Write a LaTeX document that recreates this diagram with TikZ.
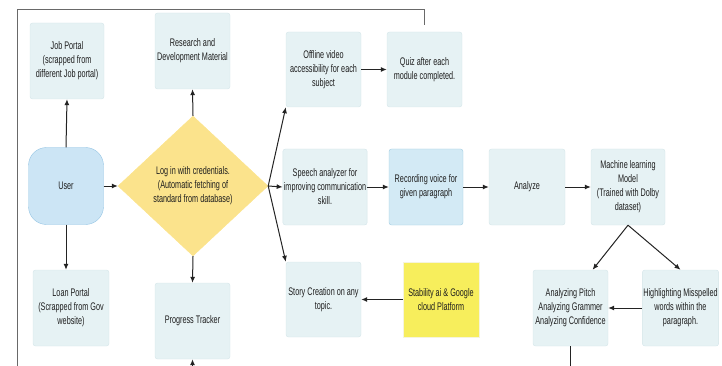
\documentclass[tikz,border=0pt]{standalone}
\usepackage{fontspec}
\setmainfont{Liberation Sans}[FakeStretch=0.66]
\usetikzlibrary{shapes.geometric,arrows.meta}

\definecolor{boxfill}{RGB}{230,242,244}
\definecolor{boxline}{RGB}{212,229,233}
\definecolor{userfill}{RGB}{204,229,245}
\definecolor{userline}{RGB}{150,198,228}
\definecolor{loginfill}{RGB}{251,227,140}
\definecolor{stabfill}{RGB}{247,238,92}
\definecolor{recfill}{RGB}{211,234,245}
\definecolor{recline}{RGB}{160,204,224}
\definecolor{wire}{RGB}{35,35,35}
\definecolor{framegray}{RGB}{105,105,105}
\definecolor{inkgray}{RGB}{30,30,30}

\tikzset{
  box/.style={draw=boxline, fill=boxfill, rounded corners=2.5pt, minimum width=75pt, minimum height=76pt,
    inner sep=1pt, align=center, text=inkgray, font=\fontsize{11}{14}\selectfont},
  link/.style={draw=wire, line width=1pt, -{Latex[length=6pt,width=5pt]}},
  wireline/.style={draw=wire, line width=1pt},
}

\begin{document}
\begin{tikzpicture}[x=1pt,y=1pt,yscale=-1,xscale=1]
\useasboundingbox (0,0) rectangle (722,366);

% Outer frame
\coordinate (quizin) at (424,25);
\draw [framegray, line width=0.9pt] (17,366) -- (17,9) -| (quizin);

% Left column
\node [box, draw=userline, fill=userfill, rounded corners=18pt, minimum height=77pt] (user) at (66,186) {User};
\node [box, minimum width=74pt] (job) at (67,61) {Job Portal\\(scrapped from\\different Job portal)};
\node [box, minimum width=76pt] (loan) at (71,308) {Loan Portal\\(Scrapped from Gov\\website)};

% Login decision
\node [diamond, fill=loginfill, draw=loginfill, minimum width=150pt, minimum height=140pt, aspect=1.07,
  inner sep=0pt, align=center, text=inkgray, font=\fontsize{11}{14}\selectfont] (login) at (193,186)
  {Log in with credentials.\\(Automatic fetching of\\standard from database)};
\node [box] (research) at (192.5,51) {Research and\\Development Material};
\node [box] (progress) at (192.5,321) {Progress Tracker};

% Top branch
\node [box, minimum height=75pt] (offline) at (323.5,69.5) {Offline video\\accessibility for each\\subject};
\node [box, minimum height=75pt] (quiz) at (424.5,69.5) {Quiz after each\\module completed.};

% Middle branch
\node [box, minimum width=84pt] (speech) at (325,187) {Speech analyzer for\\improving communication\\skill.};
\node [box, draw=recline, fill=recfill, minimum width=74pt] (record) at (426,187) {Recording voice for\\given paragraph};
\node [box, minimum width=76pt] (analyze) at (527,187) {Analyze};
\node [box, minimum width=74pt] (ml) at (628,187) {Machine learning\\Model\\(Trained with Dolby\\dataset)};
\node [box] (pitch) at (570.5,308) {Analyzing Pitch\\Analyzing Grammer\\Analyzing Confidence};
\node [box] (highlight) at (680.5,308) {Highlighting Misspelled\\words within the\\paragraph.};

% Bottom branch
\node [box, minimum height=75pt] (story) at (323.5,299.5) {Story Creation on any\\topic.};
\node [box, draw=stabfill!85!black!20, fill=stabfill, minimum width=76pt, minimum height=75pt, rounded corners=0pt] (stab) at (441,299.5) {Stability ai \& Google\\cloud Platform};

% Connectors
\draw [link] (user.north) -- (job.south);
\draw [link] (user.south) -- (user.south |- loan.north);
\draw [link] (user.east) -- (login.west);
\draw [link] (login.north) -- (research.south);
\draw [link] (login.south) -- (progress.north);
\draw [link] (login.east) -- (offline.south west);
\draw [link] (login.east) -- (speech.west);
\draw [link] (login.east) -- (story.north west);
\draw [link] (offline.east) -- (quiz.west);
\draw [link] (speech.east) -- (record.west);
\draw [link] (record.east) -- (analyze.west);
\draw [link] (analyze.east) -- (ml.west);
\draw [link] (ml.south) -- (pitch.60);
\draw [link] (ml.south) -- (highlight.north);
\draw [link] (highlight.west) -- (pitch.east);
\draw [link] (stab.west) -- (story.east);

% Cut-off ends at the bottom edge
\coordinate (progin) at (192.5,366);
\coordinate (pitchout) at (570.5,366);
\draw [link] (progin) -- (progress.south);
\draw [wireline] (pitch.south) -- (pitchout);

\end{tikzpicture}
\end{document}
